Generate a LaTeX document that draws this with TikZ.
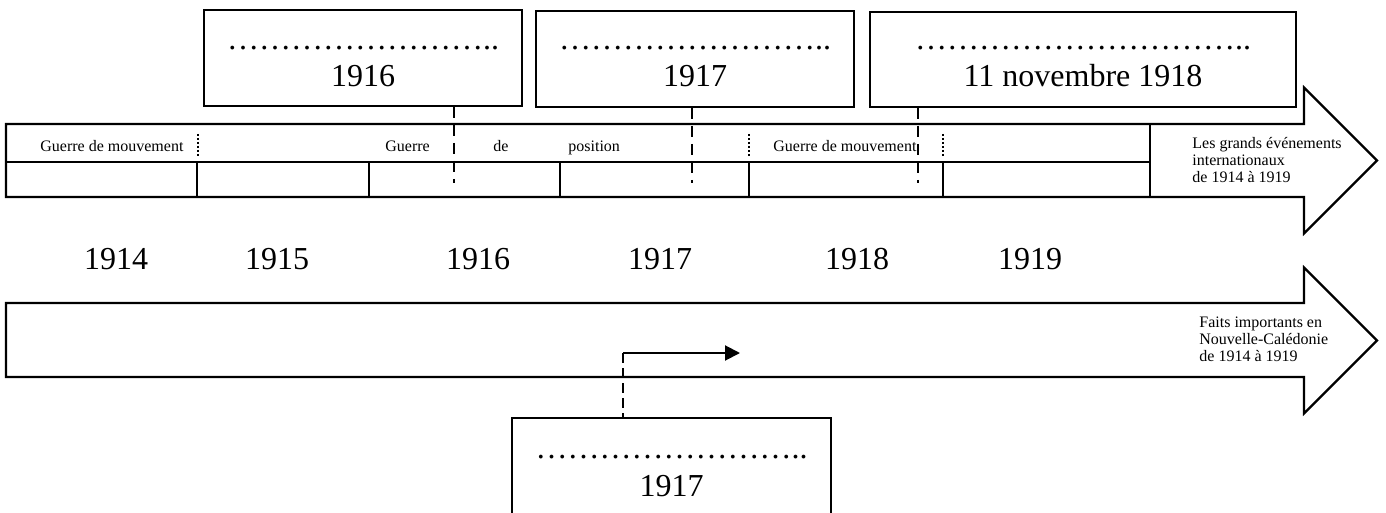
\documentclass[tikz,border=0pt]{standalone}
\usepackage{fontspec}
\setmainfont{Liberation Serif}
\usetikzlibrary{arrows.meta}
\begin{document}
\begin{tikzpicture}[x=0.5pt,y=-0.5pt,
  outline/.style={draw, line width=1.1pt, line join=miter, fill=white},
  grid/.style={line width=1pt},
  datebox/.style={draw, line width=1pt, fill=white, inner sep=0pt},
  dotsline/.style={inner sep=0pt, anchor=base, font=\fontsize{16}{18}\selectfont},
  yeartxt/.style={inner sep=0pt, anchor=base, font=\fontsize{16}{18}\selectfont},
  small/.style={inner sep=0pt, anchor=base west, font=\fontsize{8}{8.5}\selectfont},
  conn/.style={line width=1.2pt, dash pattern=on 5.5pt off 3.5pt},
  dotsep/.style={line width=1.3pt, dash pattern=on 1pt off 1pt},
  fleche/.style={line width=1pt, -{Triangle[length=7.5pt,width=7.5pt]}}
]
\useasboundingbox (0,0) rectangle (1386,513);
\clip (0,0) rectangle (1386,513);

% ---- top arrow ----
\draw[outline] (6,124) -- (1304,124) -- (1304,87.5) -- (1377,160.5) -- (1304,233.5) -- (1304,197) -- (6,197) -- cycle;
\draw[grid] (6,162) -- (1150,162);
\draw[grid] (1150,124) -- (1150,197);
\foreach \xx in {197,369,560,749,943} \draw[grid] (\xx,162) -- (\xx,197);
\foreach \xx in {198,749,943} \draw[dotsep] (\xx,134) -- (\xx,158);

\node[small] (g1) at (40,152) {Guerre de mouvement};
\node[small] (g2) at (385,152) {Guerre};
\node[small] (g3) at (493,152) {de};
\node[small] (g4) at (568,152) {position};
\node[small] (g5) at (773,152) {Guerre de mouvement};

\node[small] (t1) at (1192,149) {Les grands événements};
\node[small] (t2) at (1192,166) {internationaux};
\node[small] (t3) at (1192,183) {de 1914 à 1919};

% ---- years ----
\node[yeartxt] (y14) at (116,270) {1914};
\node[yeartxt] (y15) at (277,270) {1915};
\node[yeartxt] (y16) at (478,270) {1916};
\node[yeartxt] (y17) at (660,270) {1917};
\node[yeartxt] (y18) at (857,270) {1918};
\node[yeartxt] (y19) at (1030,270) {1919};

% ---- bottom arrow ----
\draw[outline] (6,303) -- (1304,303) -- (1304,267.5) -- (1377,340.5) -- (1304,413.5) -- (1304,377) -- (6,377) -- cycle;
\node[small] (f1) at (1199,327) {Faits importants en};
\node[small] (f2) at (1199,344) {Nouvelle-Calédonie};
\node[small] (f3) at (1199,361) {de 1914 à 1919};

% ---- date boxes on top ----
\node[datebox, minimum width=159pt, minimum height=48pt] (b1) at (363,58) {};
\node[dotsline] (b1d) at (363,50) {……………………..};
\node[yeartxt] (b1y) at (363,87) {1916};

\node[datebox, minimum width=159pt, minimum height=48pt] (b2) at (695,59) {};
\node[dotsline] (b2d) at (695,50) {……………………..};
\node[yeartxt] (b2y) at (695,87) {1917};

\node[datebox, minimum width=213pt, minimum height=47.5pt] (b3) at (1083,59.5) {};
\node[dotsline] (b3d) at (1083,50) {…………………………..};
\node[yeartxt] (b3y) at (1083,87) {11 novembre 1918};

\coordinate (c1) at (454,183);
\coordinate (c2) at (692,183);
\coordinate (c3) at (918,183);
\draw[conn] (b1.south -| c1) -- (c1);
\draw[conn] (b2.south -| c2) -- (c2);
\draw[conn] (b3.south -| c3) -- (c3);

% ---- bottom box ----
\node[datebox, minimum width=159.5pt, minimum height=61pt] (bb) at (671.5,479) {};
\node[dotsline] (bbd) at (671.5,458) {……………………..};
\node[yeartxt] (bby) at (671.5,496) {1917};

\coordinate (k) at (623,353);
\coordinate (kt) at (740,353);
\draw[line width=1.2pt, dash pattern=on 5pt off 2.5pt] (k) -- (bb.north -| k);
\draw[fleche] (k) -- (kt);
\end{tikzpicture}
\end{document}
